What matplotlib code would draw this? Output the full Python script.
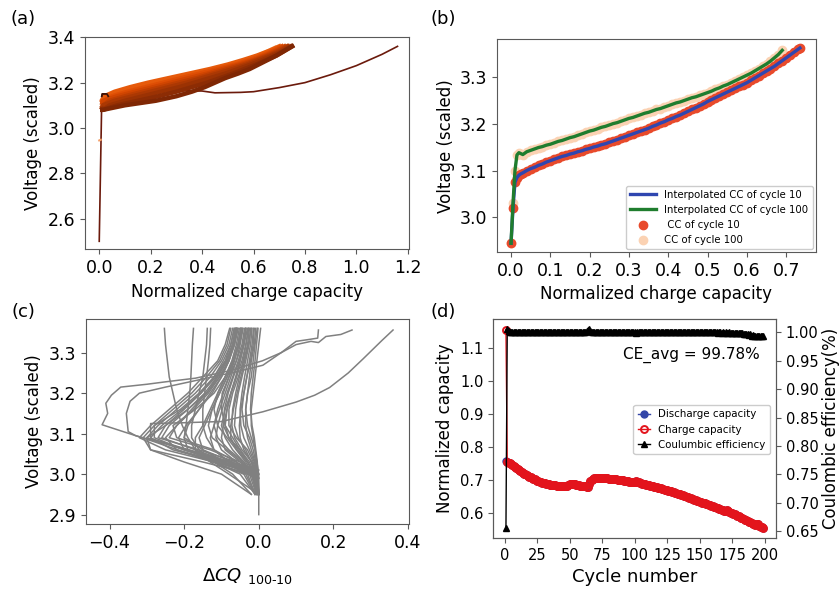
import numpy as np
import matplotlib.pyplot as plt

nan = float('nan')

# ---------------- (a) charge curves, light (early) -> dark (late) ----------------
a_volt_grid = [3.08, 3.10, 3.12, 3.14, 3.16, 3.18, 3.20, 3.22, 3.24, 3.26, 3.28, 3.30, 3.32, 3.34, 3.36]
a_plateau_volt = [3.13, 3.125, 3.115, 3.11, 3.095, 3.09, 3.085, 3.08, 3.08]
a_capacity = [
    [nan, nan, nan, 0.030, 0.090, 0.150, 0.220, 0.290, 0.370, 0.440, 0.510, 0.565, 0.610, 0.650, 0.685],
    [nan, nan, nan, 0.020, 0.060, 0.120, 0.190, 0.270, 0.350, 0.430, 0.500, 0.560, 0.615, 0.660, 0.700],
    [nan, nan, 0.020, 0.050, 0.110, 0.180, 0.250, 0.320, 0.390, 0.460, 0.530, 0.585, 0.635, 0.675, 0.710],
    [nan, nan, 0.015, 0.070, 0.140, 0.210, 0.280, 0.350, 0.420, 0.480, 0.545, 0.600, 0.645, 0.685, 0.720],
    [nan, 0.015, 0.040, 0.100, 0.170, 0.240, 0.310, 0.380, 0.440, 0.500, 0.560, 0.610, 0.655, 0.695, 0.730],
    [nan, 0.015, 0.060, 0.130, 0.200, 0.270, 0.340, 0.400, 0.460, 0.520, 0.575, 0.620, 0.665, 0.705, 0.735],
    [0.015, 0.040, 0.100, 0.170, 0.240, 0.310, 0.370, 0.430, 0.490, 0.540, 0.590, 0.635, 0.675, 0.715, 0.745],
    [0.015, 0.070, 0.150, 0.230, 0.300, 0.360, 0.420, 0.470, 0.520, 0.565, 0.610, 0.650, 0.690, 0.720, 0.750],
    [0.015, 0.100, 0.220, 0.300, 0.360, 0.410, 0.450, 0.490, 0.540, 0.585, 0.620, 0.655, 0.690, 0.720, 0.750],
]
a_first_q = [0.0, 0.006]
a_first_v = [2.945, 2.948]
a_outlier_q = [0.0, 0.010, 0.012, 0.030, 0.035, 0.100, 0.200, 0.300, 0.400, 0.450, 0.550, 0.600, 0.700,
               0.800, 0.900, 1.000, 1.100, 1.160]
a_outlier_v = [2.50, 3.140, 3.150, 3.150, 3.140, 3.145, 3.155, 3.165, 3.163, 3.155, 3.157, 3.160, 3.178,
               3.200, 3.235, 3.275, 3.325, 3.360]

# ---------------- (b) cycle 10 vs cycle 100 ----------------
b_q10 = [0.000, 0.005, 0.010, 0.015, 0.020, 0.025, 0.030, 0.040, 0.050, 0.060, 0.070, 0.080, 0.090, 0.100,
         0.110, 0.120, 0.130, 0.140, 0.150, 0.160, 0.170, 0.180, 0.190, 0.200, 0.210, 0.220, 0.230, 0.240,
         0.250, 0.260, 0.270, 0.280, 0.290, 0.300, 0.310, 0.320, 0.330, 0.340, 0.350, 0.360, 0.370, 0.380,
         0.390, 0.400, 0.410, 0.420, 0.430, 0.440, 0.450, 0.460, 0.470, 0.480, 0.490, 0.500, 0.510, 0.520,
         0.530, 0.540, 0.550, 0.560, 0.570, 0.580, 0.590, 0.600, 0.610, 0.620, 0.630, 0.640, 0.650, 0.660,
         0.670, 0.680, 0.690, 0.700, 0.710, 0.720, 0.730, 0.735]
b_v10 = [2.945, 3.020, 3.075, 3.085, 3.090, 3.093, 3.095, 3.100, 3.104, 3.107, 3.111, 3.114, 3.118, 3.121,
         3.124, 3.127, 3.130, 3.132, 3.135, 3.137, 3.140, 3.142, 3.145, 3.147, 3.150, 3.152, 3.155, 3.157,
         3.160, 3.163, 3.166, 3.169, 3.172, 3.175, 3.178, 3.181, 3.184, 3.187, 3.190, 3.194, 3.197, 3.201,
         3.204, 3.208, 3.211, 3.215, 3.218, 3.222, 3.226, 3.230, 3.234, 3.238, 3.242, 3.247, 3.251, 3.255,
         3.259, 3.263, 3.267, 3.271, 3.275, 3.279, 3.283, 3.287, 3.292, 3.297, 3.302, 3.307, 3.312, 3.317,
         3.322, 3.328, 3.334, 3.340, 3.346, 3.352, 3.358, 3.361]
b_q100 = [0.000, 0.005, 0.010, 0.015, 0.020, 0.025, 0.030, 0.040, 0.050, 0.060, 0.070, 0.080, 0.090, 0.100,
          0.110, 0.120, 0.130, 0.140, 0.150, 0.160, 0.170, 0.180, 0.190, 0.200, 0.210, 0.220, 0.230, 0.240,
          0.250, 0.260, 0.270, 0.280, 0.290, 0.300, 0.310, 0.320, 0.330, 0.340, 0.350, 0.360, 0.370, 0.380,
          0.390, 0.400, 0.410, 0.420, 0.430, 0.440, 0.450, 0.460, 0.470, 0.480, 0.490, 0.500, 0.510, 0.520,
          0.530, 0.540, 0.550, 0.560, 0.570, 0.580, 0.590, 0.600, 0.610, 0.620, 0.630, 0.640, 0.650, 0.660,
          0.670, 0.680, 0.690]
b_v100 = [2.945, 3.030, 3.100, 3.133, 3.138, 3.136, 3.134, 3.140, 3.143, 3.146, 3.149, 3.151, 3.154, 3.156,
          3.159, 3.162, 3.164, 3.167, 3.170, 3.172, 3.175, 3.178, 3.181, 3.184, 3.186, 3.189, 3.192, 3.194,
          3.197, 3.200, 3.202, 3.205, 3.208, 3.211, 3.213, 3.216, 3.219, 3.222, 3.224, 3.227, 3.230, 3.232,
          3.235, 3.238, 3.241, 3.244, 3.246, 3.249, 3.252, 3.255, 3.257, 3.260, 3.263, 3.266, 3.269, 3.273,
          3.276, 3.280, 3.283, 3.287, 3.291, 3.295, 3.299, 3.303, 3.307, 3.312, 3.317, 3.322, 3.327, 3.333,
          3.340, 3.347, 3.356]

# ---------------- (c) dQ(V) = Q100 - Q10 for many cells ----------------
c_volt_grid = [2.90, 2.95, 3.00, 3.03, 3.06, 3.09, 3.12, 3.16, 3.20, 3.24, 3.28, 3.32, 3.36]
c_dq = [
    [0.000, 0.000, 0.000, -0.005, -0.010, -0.015, -0.020, -0.020, -0.015, -0.010, -0.005, 0.000, 0.005],
    [nan, 0.000, -0.005, -0.010, -0.020, -0.030, -0.035, -0.035, -0.030, -0.025, -0.020, -0.012, -0.008],
    [nan, -0.002, -0.010, -0.020, -0.040, -0.050, -0.052, -0.048, -0.040, -0.032, -0.022, -0.015, -0.012],
    [nan, -0.005, -0.012, -0.030, -0.060, -0.075, -0.075, -0.068, -0.058, -0.048, -0.038, -0.028, -0.020],
    [nan, 0.000, -0.020, -0.050, -0.090, -0.100, -0.095, -0.085, -0.074, -0.060, -0.050, -0.040, -0.030],
    [nan, -0.010, -0.030, -0.080, -0.120, -0.130, -0.120, -0.105, -0.090, -0.075, -0.060, -0.050, -0.042],
    [nan, -0.010, -0.050, -0.120, -0.170, -0.170, -0.150, -0.130, -0.110, -0.090, -0.072, -0.060, -0.052],
    [nan, nan, -0.010, -0.100, -0.220, -0.250, -0.220, -0.180, -0.140, -0.110, -0.085, -0.070, -0.062],
    [nan, nan, 0.000, -0.080, -0.200, -0.300, -0.270, -0.220, -0.170, -0.130, -0.100, -0.080, -0.070],
    [nan, nan, -0.005, -0.120, -0.250, -0.320, -0.290, -0.240, -0.190, -0.150, -0.110, -0.090, -0.078],
    [nan, -0.020, -0.100, -0.200, -0.290, -0.310, -0.280, -0.230, -0.180, -0.140, -0.105, -0.085, -0.075],
    [nan, nan, -0.005, -0.060, -0.160, -0.270, -0.250, -0.200, -0.155, -0.120, -0.090, -0.075, -0.066],
    [nan, 0.000, -0.010, -0.030, -0.050, -0.070, -0.090, -0.100, -0.098, -0.080, -0.060, -0.045, -0.038],
    [nan, -0.010, -0.040, -0.080, -0.120, -0.140, -0.150, -0.150, -0.145, -0.140, -0.135, -0.131, -0.129],
    [nan, -0.020, -0.070, -0.120, -0.160, -0.180, -0.180, -0.170, -0.160, -0.150, -0.145, -0.140, -0.138],
    [nan, nan, -0.040, -0.120, -0.190, -0.200, -0.195, -0.190, -0.185, -0.182, -0.180, -0.178, -0.175],
    [nan, 0.000, -0.080, -0.130, -0.170, -0.190, -0.205, -0.220, -0.230, -0.240, -0.245, -0.250, -0.253],
    [nan, 0.000, -0.005, -0.015, -0.030, -0.060, -0.080, -0.080, -0.070, -0.055, -0.040, -0.030, -0.025],
    [nan, -0.005, -0.020, -0.040, -0.070, -0.090, -0.100, -0.090, -0.075, -0.060, -0.045, -0.035, -0.027],
    [nan, nan, -0.010, -0.090, -0.200, -0.280, -0.280, -0.210, -0.160, -0.120, -0.095, -0.075, -0.065],
    [nan, 0.000, -0.020, -0.060, -0.120, -0.220, -0.230, -0.170, -0.120, -0.090, -0.070, -0.055, -0.048],
    [nan, 0.000, -0.002, -0.006, -0.010, -0.020, -0.030, -0.035, -0.030, -0.020, -0.015, -0.010, -0.004],
    [nan, nan, -0.020, -0.150, -0.290, -0.300, -0.250, -0.190, -0.140, -0.105, -0.080, -0.065, -0.058],
    [nan, -0.003, -0.015, -0.035, -0.060, -0.085, -0.110, -0.120, -0.110, -0.090, -0.070, -0.055, -0.045],
    [nan, 0.000, -0.004, -0.012, -0.025, -0.040, -0.048, -0.050, -0.045, -0.038, -0.030, -0.022, -0.018],
    [nan, -0.004, -0.015, -0.040, -0.080, -0.110, -0.120, -0.110, -0.095, -0.080, -0.065, -0.055, -0.048],
    [nan, nan, -0.010, -0.070, -0.150, -0.200, -0.190, -0.160, -0.130, -0.100, -0.080, -0.065, -0.055],
    [nan, -0.002, -0.008, -0.020, -0.035, -0.055, -0.065, -0.062, -0.055, -0.045, -0.035, -0.026, -0.022],
    [nan, nan, -0.015, -0.110, -0.230, -0.290, -0.260, -0.205, -0.155, -0.115, -0.088, -0.070, -0.060],
    [nan, -0.006, -0.025, -0.060, -0.100, -0.115, -0.110, -0.098, -0.085, -0.070, -0.055, -0.042, -0.035],
    [nan, 0.000, -0.003, -0.008, -0.015, -0.025, -0.040, -0.045, -0.040, -0.032, -0.025, -0.018, -0.014],
    [nan, nan, 0.000, -0.100, -0.200, -0.215, -0.195, -0.160, -0.125, -0.100, -0.080, -0.068, -0.060],
    [nan, -0.008, -0.035, -0.090, -0.150, -0.160, -0.145, -0.125, -0.105, -0.085, -0.068, -0.056, -0.048],
    [nan, 0.000, -0.006, -0.018, -0.045, -0.065, -0.072, -0.070, -0.062, -0.052, -0.042, -0.034, -0.028],
    [nan, nan, -0.005, -0.050, -0.130, -0.240, -0.220, -0.175, -0.135, -0.105, -0.082, -0.066, -0.058],
    [nan, -0.002, -0.010, -0.025, -0.050, -0.080, -0.095, -0.092, -0.082, -0.068, -0.052, -0.040, -0.034],
    [nan, 0.000, -0.015, -0.045, -0.085, -0.125, -0.135, -0.125, -0.105, -0.085, -0.066, -0.052, -0.044],
    [nan, nan, -0.005, -0.080, -0.170, -0.260, -0.240, -0.190, -0.145, -0.112, -0.086, -0.070, -0.062],
    [nan, 0.000, -0.002, -0.004, -0.008, -0.012, -0.018, -0.022, -0.020, -0.015, -0.010, -0.006, -0.002],
    [nan, -0.003, -0.012, -0.030, -0.055, -0.080, -0.090, -0.085, -0.075, -0.062, -0.050, -0.040, -0.035],
]
# outlier cells, read point by point
c_out_dq = [
    [0.000, -0.140, -0.280, -0.420, -0.405, -0.410, -0.395, -0.370, -0.300, -0.250, -0.170, -0.080, 0.010,
     0.060, 0.100, 0.140, 0.160, 0.180, 0.220, 0.250],
    [0.000, -0.150, -0.330, -0.350, -0.355, -0.345, -0.320, -0.250, -0.150, -0.050, 0.011, 0.060, 0.100,
     0.130, 0.158, 0.160],
    [0.000, -0.150, -0.290, -0.290, -0.200, -0.100, 0.011, 0.100, 0.150, 0.190, 0.240, 0.280, 0.330, 0.360],
]
c_out_v = [
    [2.990, 3.035, 3.080, 3.122, 3.150, 3.175, 3.195, 3.215, 3.222, 3.228, 3.237, 3.255, 3.280,
     3.300, 3.320, 3.328, 3.325, 3.340, 3.345, 3.356],
    [3.010, 3.050, 3.095, 3.105, 3.150, 3.180, 3.200, 3.215, 3.235, 3.255, 3.269, 3.300, 3.328,
     3.332, 3.336, 3.356],
    [2.990, 3.050, 3.088, 3.125, 3.127, 3.130, 3.154, 3.178, 3.195, 3.214, 3.250, 3.285, 3.330, 3.356],
]

# ---------------- (d) cycling ----------------
cycles = list(range(1, 200))
discharge_capacity = [
    0.758, 0.755, 0.752, 0.750, 0.748, 0.745, 0.742, 0.739, 0.736, 0.733,
    0.730, 0.727, 0.724, 0.721, 0.718, 0.716, 0.713, 0.711, 0.709, 0.707,
    0.705, 0.703, 0.701, 0.699, 0.697, 0.696, 0.694, 0.693, 0.691, 0.690,
    0.689, 0.688, 0.687, 0.686, 0.685, 0.684, 0.684, 0.683, 0.683, 0.682,
    0.682, 0.681, 0.681, 0.681, 0.680, 0.680, 0.680, 0.681, 0.684, 0.687,
    0.687, 0.687, 0.686, 0.686, 0.685, 0.684, 0.683, 0.682, 0.681, 0.681,
    0.680, 0.680, 0.679, 0.679, 0.688, 0.695, 0.700, 0.703, 0.704, 0.705,
    0.705, 0.705, 0.705, 0.705, 0.705, 0.705, 0.704, 0.704, 0.704, 0.703,
    0.703, 0.703, 0.702, 0.702, 0.701, 0.701, 0.700, 0.700, 0.699, 0.699,
    0.698, 0.697, 0.697, 0.696, 0.695, 0.694, 0.693, 0.693, 0.692, 0.692,
    0.695, 0.694, 0.692, 0.690, 0.689, 0.688, 0.687, 0.686, 0.685, 0.684,
    0.683, 0.682, 0.681, 0.680, 0.679, 0.678, 0.677, 0.676, 0.675, 0.674,
    0.672, 0.671, 0.670, 0.669, 0.668, 0.666, 0.665, 0.664, 0.663, 0.661,
    0.660, 0.659, 0.657, 0.656, 0.655, 0.653, 0.652, 0.650, 0.649, 0.647,
    0.646, 0.644, 0.643, 0.641, 0.640, 0.638, 0.637, 0.636, 0.634, 0.633,
    0.632, 0.630, 0.629, 0.628, 0.626, 0.625, 0.624, 0.622, 0.621, 0.619,
    0.618, 0.616, 0.615, 0.613, 0.612, 0.610, 0.609, 0.607, 0.606, 0.605,
    0.607, 0.604, 0.602, 0.600, 0.598, 0.596, 0.594, 0.592, 0.590, 0.588,
    0.586, 0.584, 0.582, 0.580, 0.578, 0.576, 0.574, 0.572, 0.570, 0.568,
    0.566, 0.564, 0.562, 0.566, 0.564, 0.560, 0.557, 0.555, 0.553,
]
# after cycle 1 the charge readings sit on top of the discharge ones
charge_capacity = [1.157] + discharge_capacity[1:]
coulombic_eff = [
    0.655, 1.005, 1.002, 1.001, 1.001, 1.001, 1.000, 1.001, 1.001, 1.000,
    1.001, 1.000, 1.001, 1.001, 1.000, 1.001, 1.001, 1.000, 1.001, 1.000,
    1.001, 1.000, 1.001, 1.000, 1.001, 1.000, 1.001, 1.000, 1.001, 1.000,
    1.001, 1.000, 1.001, 1.000, 1.001, 1.000, 1.000, 1.001, 1.000, 1.001,
    1.000, 1.001, 1.000, 1.001, 1.000, 1.001, 1.000, 1.001, 1.000, 1.001,
    1.000, 1.001, 1.000, 1.001, 1.000, 1.001, 1.000, 1.001, 1.000, 1.001,
    1.001, 1.001, 1.002, 1.003, 1.005, 1.002, 1.001, 1.001, 1.001, 1.001,
    1.001, 1.001, 1.001, 1.000, 1.001, 1.001, 1.000, 1.001, 1.001, 1.000,
    1.001, 1.000, 1.001, 1.001, 1.000, 1.001, 1.000, 1.001, 1.000, 1.001,
    1.000, 1.001, 1.000, 1.001, 1.000, 1.001, 1.000, 1.001, 1.000, 1.000,
    0.998, 1.000, 1.001, 1.000, 1.001, 1.000, 1.001, 1.000, 1.001, 1.000,
    1.001, 1.000, 1.001, 1.000, 1.001, 1.000, 1.001, 1.000, 1.001, 1.000,
    1.001, 1.000, 1.001, 1.000, 1.001, 1.000, 1.001, 1.000, 1.001, 1.000,
    1.001, 1.000, 1.001, 1.000, 1.001, 1.000, 1.001, 1.000, 1.001, 1.000,
    1.000, 1.001, 1.000, 1.001, 1.000, 1.000, 1.001, 1.000, 1.000, 1.001,
    1.000, 1.000, 1.001, 1.000, 1.000, 1.000, 1.001, 1.000, 1.000, 1.000,
    1.000, 1.000, 1.000, 0.999, 1.000, 1.000, 0.999, 1.000, 0.999, 1.000,
    0.999, 0.999, 1.000, 0.999, 0.999, 0.999, 0.999, 0.999, 0.998, 0.999,
    0.998, 0.998, 0.998, 0.997, 0.997, 0.996, 0.997, 0.995, 0.996, 0.994,
    0.995, 0.994, 0.993, 0.994, 0.993, 0.993, 0.994, 0.993, 0.993,
]

spine_col = '0.35'


def style(ax, size=12):
    for s in ax.spines.values():
        s.set_color(spine_col)
    ax.tick_params(labelsize=size, color=spine_col)


fig = plt.figure(figsize=(8.4, 5.92), dpi=100)

# (a)
ax_a = fig.add_axes([0.101, 0.579, 0.386, 0.358])
ax_a.plot(a_outlier_q, a_outlier_v, color='#6b1a0c', lw=1.2, zorder=1)
ax_a.plot(a_first_q, a_first_v, color='#f4a06a', lw=1.5, zorder=1)
cols = ['#fbbf92'] + list(plt.cm.Oranges(np.linspace(0.68, 1.0, len(a_capacity) - 1)))
widths = [1.5] + [3.2] * (len(a_capacity) - 1)
for i, qs in enumerate(a_capacity):
    q = [0.012] + [x for x in qs if not np.isnan(x)]
    v = [a_plateau_volt[i]] + [a_volt_grid[k] for k, x in enumerate(qs) if not np.isnan(x)]
    ax_a.plot(q, v, color=cols[i], lw=widths[i], zorder=2 + i * 0.01)
ax_a.plot(a_outlier_q[1:5], a_outlier_v[1:5], color='#3a1208', lw=1.3, zorder=3)
ax_a.set_xlim(-0.056, 1.205)
ax_a.set_ylim(2.465, 3.40)
ax_a.set_xticks(np.arange(0, 1.21, 0.2))
ax_a.set_yticks([2.6, 2.8, 3.0, 3.2, 3.4])
ax_a.set_xlabel('Normalized charge capacity', fontsize=12)
ax_a.set_ylabel('Voltage (scaled)', fontsize=12)
style(ax_a, 12.5)

# (b)
ax_b = fig.add_axes([0.592, 0.574, 0.379, 0.360])
ax_b.scatter(b_q100, b_v100, s=36, color='#fbd2b3', label='CC of cycle 100', zorder=1)
ax_b.scatter(b_q10, b_v10, s=36, color='#e84a2b', label=' CC of cycle 10', zorder=1)
ax_b.plot(b_q10, b_v10, color='#2f46b0', lw=2.4, label='Interpolated CC of cycle 10', zorder=3)
ax_b.plot(b_q100, b_v100, color='#1f7d2e', lw=2.4, label='Interpolated CC of cycle 100', zorder=3)
h, l = ax_b.get_legend_handles_labels()
order = [2, 3, 1, 0]
ax_b.legend([h[k] for k in order], [l[k] for k in order], loc='lower right', fontsize=7.3,
            borderaxespad=0.3, framealpha=1, handlelength=2.6)
ax_b.set_xlim(-0.035, 0.775)
ax_b.set_ylim(2.926, 3.38)
ax_b.set_xticks(np.arange(0, 0.71, 0.1))
ax_b.set_yticks([3.0, 3.1, 3.2, 3.3])
ax_b.set_xlabel('Normalized charge capacity', fontsize=12)
ax_b.set_ylabel('Voltage (scaled)', fontsize=12)
style(ax_b, 12.5)

# (c)
ax_c = fig.add_axes([0.102, 0.115, 0.385, 0.346])
for dq in c_dq:
    ax_c.plot(dq, c_volt_grid, color='#808080', lw=1.1)
for dq, v in zip(c_out_dq, c_out_v):
    ax_c.plot(dq, v, color='#808080', lw=1.1)
ax_c.set_xlim(-0.464, 0.403)
ax_c.set_ylim(2.877, 3.383)
ax_c.set_xticks([-0.4, -0.2, 0.0, 0.2, 0.4])
ax_c.set_yticks([2.9, 3.0, 3.1, 3.2, 3.3])
ax_c.set_xlabel(r'$\Delta CQ\ _{\mathrm{100\text{-}10}}$', fontsize=13, labelpad=10)
ax_c.set_ylabel('Voltage (scaled)', fontsize=12)
style(ax_c, 12.5)

# (d)
ax_d = fig.add_axes([0.587, 0.091, 0.337, 0.370])
ax_d2 = ax_d.twinx()
ld, = ax_d.plot(cycles, discharge_capacity, '-o', color='#3346a8', ms=5, lw=1, label='Discharge capacity')
lc, = ax_d.plot(cycles, charge_capacity, '-o', color='#e3141c', mfc='none', mec='#e3141c', mew=1.4,
                ms=5, lw=1, label='Charge capacity')
le, = ax_d2.plot(cycles, coulombic_eff, '-^', color='black', ms=5, lw=1, label='Coulumbic efficiency')
ax_d2.legend([ld, lc, le], ['Discharge capacity', 'Charge capacity', 'Coulumbic efficiency'],
             loc='upper right', bbox_to_anchor=(0.995, 0.63), fontsize=7.4, framealpha=1,
             handlelength=1.2)
ax_d.set_xlim(-8.9, 208.9)
ax_d.set_ylim(0.522, 1.189)
ax_d2.set_ylim(0.638, 1.023)
ax_d.set_xticks(np.arange(0, 201, 25))
ax_d.set_yticks([0.6, 0.7, 0.8, 0.9, 1.0, 1.1])
ax_d2.set_yticks(np.arange(0.65, 1.001, 0.05))
ax_d2.set_yticklabels(['%.2f' % t for t in np.arange(0.65, 1.001, 0.05)])
ax_d.text(0.70, 0.835, 'CE_avg = 99.78%', transform=ax_d.transAxes, ha='center', va='center', fontsize=11)
ax_d.set_xlabel('Cycle number', fontsize=13)
ax_d.set_ylabel('Normalized capacity', fontsize=12)
ax_d2.set_ylabel('Coulombic efficiency(%)', fontsize=12, labelpad=2)
style(ax_d, 10.5)
style(ax_d2, 10.5)

for lab, x, y in [('(a)', 0.012, 0.968), ('(b)', 0.513, 0.968), ('(c)', 0.014, 0.473), ('(d)', 0.513, 0.473)]:
    fig.text(x, y, lab, fontsize=13, ha='left', va='center')

fig.savefig('out.png', dpi=100)
